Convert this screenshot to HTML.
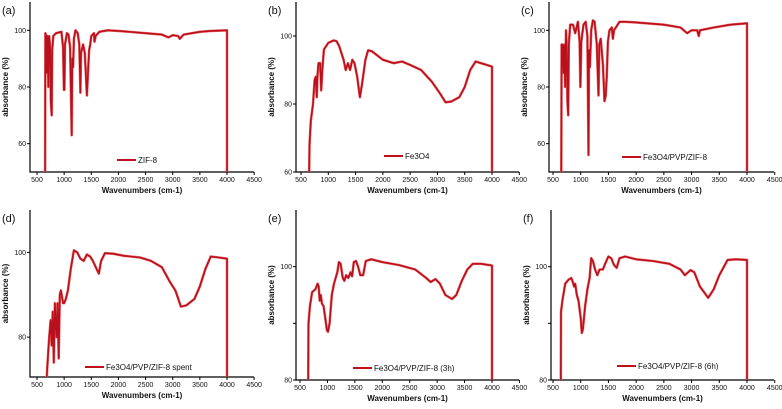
<!DOCTYPE html>
<html><head><meta charset="utf-8"><style>
body{margin:0;background:#fff;}
svg{display:block;font-family:"Liberation Sans",sans-serif;}
</style></head><body>
<svg id="fig" width="782" height="409" viewBox="0 0 782 409"></svg>
<script>
const xTicks=[500,1000,1500,2000,2500,3000,3500,4000,4500];
const seriesA=[[650,50],[655,99],[670,98],[685,85],[695,98],[710,80],[725,98],[745,93],[755,75],[770,70],[780,93],[800,98],[850,99],[950,99.5],[980,94],[995,79],[1005,79],[1015,95],[1050,99],[1080,98.5],[1110,94],[1140,63],[1150,90],[1165,87],[1180,97],[1210,100],[1250,99],[1280,95],[1300,78],[1310,92],[1350,95],[1380,92],[1420,77],[1440,85],[1460,93],[1480,95],[1500,98],[1550,99],[1560,96],[1580,98],[1650,99.5],[1800,100],[2000,99.8],[2500,99],[2800,98.5],[2920,97.5],[3000,98.3],[3100,98],[3130,97],[3200,98.5],[3500,99.5],[3700,99.8],[4000,100],[4000,50]];
const seriesB=[[650,60],[655,68],[680,75],[720,80],[750,87],[770,88],[790,82],[800,88],[820,92],[850,92],[870,84],[890,90],[920,96],[1000,98],[1100,98.7],[1150,98.5],[1200,97],[1280,93],[1320,90],[1360,92],[1400,90],[1440,93],[1480,92],[1530,88],[1580,82],[1620,86],[1680,93],[1730,95.8],[1800,95.5],[2000,93],[2200,92],[2350,92.5],[2500,91.5],[2700,90],[2900,86.5],[3050,83],[3150,80.5],[3250,80.7],[3400,82],[3500,85],[3600,90],[3700,92.5],[3800,92],[3900,91.5],[4000,91],[4000,60]];
const seriesC=[[650,50],[655,95],[670,95],[690,85],[700,95],[720,80],[735,100],[750,92],[760,75],[775,70],[785,95],[810,102],[860,102],[900,99],[950,103],[980,96],[995,80],[1010,96],[1050,102],[1090,103],[1120,98],[1140,56],[1150,93],[1165,87],[1190,100],[1220,103.5],[1250,103],[1290,95],[1320,77],[1335,95],[1360,97],[1400,88],[1430,75],[1450,77],[1470,84],[1490,96],[1520,100],[1560,101],[1580,97],[1600,100],[1700,103],[1800,103],[2000,102.8],[2500,102],[2800,101],[2920,99],[3000,100],[3100,100],[3130,98],[3150,100],[3400,101],[3700,102],[4000,102.5],[4000,50]];
const seriesD=[[680,70.6],[690,73],[720,79],[750,84],[770,78],[790,86],[810,74],[830,88],[860,80],[880,88],[900,75],[920,90],[940,91],[980,88],[1000,88],[1030,89],[1070,91],[1120,96],[1180,100.5],[1240,100],[1300,98.5],[1360,98],[1420,99.5],[1480,99],[1530,98],[1600,96],[1640,95],[1680,98],[1750,99.8],[1900,99.7],[2100,99.2],[2400,98.8],[2600,98],[2800,96.5],[2950,93],[3050,91],[3150,87.2],[3250,87.5],[3400,89],[3500,92],[3600,96],[3700,99],[3850,98.8],[4000,98.5],[4000,70.6]];
const seriesE=[[650,80],[655,90],[680,93],[720,95.5],[780,96],[820,97],[840,96.5],[860,94],[880,95],[900,93.5],[930,93],[960,91],[990,88.8],[1010,88.5],[1040,90],[1080,95],[1120,97],[1180,99],[1210,100.8],[1240,100.5],[1280,98],[1310,97.5],[1340,98.5],[1380,98],[1420,99],[1450,98.3],[1480,100.8],[1520,101],[1560,100],[1600,98.5],[1650,98.5],[1700,101],[1800,101.3],[2000,100.8],[2300,100.3],[2600,99.5],[2800,98],[2880,97.3],[2970,97.8],[3050,97],[3150,95],[3270,94.3],[3350,95],[3450,97.5],[3550,99.5],[3650,100.5],[3800,100.5],[4000,100.2],[4000,80]];
const seriesF=[[640,80],[645,92],[670,94],[720,97],[780,97.7],[830,98],[850,97.5],[880,96.5],[900,97],[930,95],[960,94],[1000,91],[1020,88.3],[1040,89],[1080,93],[1120,96],[1160,98],[1190,101.5],[1220,101],[1260,99.5],[1300,98.5],[1340,99.5],[1400,99.5],[1440,100.5],[1500,101.8],[1550,101.5],[1600,100.3],[1650,99.8],[1700,101.5],[1800,101.8],[2000,101.3],[2300,101],[2600,100.5],[2800,99.5],[2880,98.5],[2980,99.4],[3050,99],[3150,96.5],[3300,94.5],[3400,96],[3500,98.5],[3650,101.2],[3800,101.3],[4000,101.2],[4000,80]];
const yTicksA=[60,80,100], yTicksB=[60,80,100], yTicksD=[80,100], yTicksE=[80,100];
const yMinorE=[90];

const panels=[
 {id:'a',name:'ZIF-8',data:seriesA,L:30,R:254,T:2,B:172,x5:37,x40:227,ymin:50,ymax:110,yt:yTicksA,ym:[],lx:117,ly:160},
 {id:'b',name:'Fe3O4',data:seriesB,L:296,R:519,T:2,B:172,x5:301,x40:492,ymin:60,ymax:110,yt:yTicksB,ym:[],lx:384,ly:156},
 {id:'c',name:'Fe3O4/PVP/ZIF-8',data:seriesC,L:549,R:774,T:2,B:172,x5:553,x40:747,ymin:50,ymax:110,yt:yTicksA,ym:[],lx:622,ly:157},
 {id:'d',name:'Fe3O4/PVP/ZIF-8 spent',data:seriesD,L:30,R:254,T:210,B:377,x5:37,x40:227,ymin:70.6,ymax:110,yt:yTicksD,ym:[],lx:85,ly:367},
 {id:'e',name:'Fe3O4/PVP/ZIF-8 (3h)',data:seriesE,L:296,R:519,T:210,B:380,x5:300,x40:492,ymin:80,ymax:110,yt:yTicksE,ym:yMinorE,lx:353,ly:368},
 {id:'f',name:'Fe3O4/PVP/ZIF-8 (6h)',data:seriesF,L:551,R:774,T:210,B:380,x5:553,x40:747,ymin:80,ymax:110,yt:yTicksE,ym:yMinorE,lx:617,ly:366}
];
const NS='http://www.w3.org/2000/svg';
const svg=document.getElementById('fig');
function mk(tag,attrs,parent,txt){const e=document.createElementNS(NS,tag);for(const k in attrs)e.setAttribute(k,attrs[k]);if(txt!==undefined)e.textContent=txt;parent.appendChild(e);return e;}
panels.forEach(p=>{
 const g=mk('g',{},svg);
 
 
 const xs=v=>p.x5+(v-500)*(p.x40-p.x5)/3500;
 const ys=v=>p.B-(v-p.ymin)*(p.B-p.T)/(p.ymax-p.ymin);
 const ax=mk('path',{d:`M${p.L},${p.T}V${p.B}H${p.R}`,fill:'none',stroke:'#000','stroke-width':1.2},g);
 
 
 xTicks.forEach(t=>{
  const x=xs(t);
  mk('line',{x1:x,x2:x,y1:p.B,y2:p.B+3,stroke:'#000','stroke-width':1},g);
  const tl=mk('text',{x:x,y:p.B+10,'font-size':7,'text-anchor':'middle',fill:'#111'},g,t);
  
  
 });
 p.yt.forEach(t=>{
  const y=ys(t);
  mk('line',{x1:p.L-3,x2:p.L,y1:y,y2:y,stroke:'#000','stroke-width':1},g);
  const tl=mk('text',{x:p.L-4,y:y+2.5,'font-size':7,'text-anchor':'end',fill:'#111'},g,t);
  
  
 });
 p.ym.forEach(t=>{const y=ys(t);mk('line',{x1:p.L-3,x2:p.L,y1:y,y2:y,stroke:'#000','stroke-width':1},g);});
 const xt=mk('text',{x:(p.L+p.R)/2,y:p.B+21,'font-size':8,'text-anchor':'middle',fill:'#111','font-weight':'bold'},g,'Wavenumbers (cm-1)');
 
 
 const cy=(p.T+p.B)/2;
 const yt=mk('text',{x:p.L-22,y:cy,'font-size':8,'text-anchor':'middle',fill:'#111','font-weight':'bold',transform:`rotate(-90 ${p.L-22} ${cy})`},g,'absorbance (%)');
 
 
 const pl=mk('text',{x:p.L-28,y:p.T+12,'font-size':11,fill:'#111'},g,'('+p.id+')');
 
 
 const d=p.data.map((q,i)=>(i?'L':'M')+xs(q[0]).toFixed(1)+','+ys(q[1]).toFixed(1)).join('');
 mk('path',{d:d,fill:'none',stroke:'#f07070','stroke-width':2.6,'stroke-linejoin':'round'},g);
 const ln=mk('path',{d:d,fill:'none',stroke:'#b8101c','stroke-width':1.6,'stroke-linejoin':'round'},g);
 
 
 const lg=mk('g',{},g);
 
 
 mk('line',{x1:p.lx,x2:p.lx+19,y1:p.ly,y2:p.ly,stroke:'#c0101c','stroke-width':2},lg);
 mk('text',{x:p.lx+21,y:p.ly+3,'font-size':8,fill:'#111'},lg,p.name);
});
</script>
</body></html>
